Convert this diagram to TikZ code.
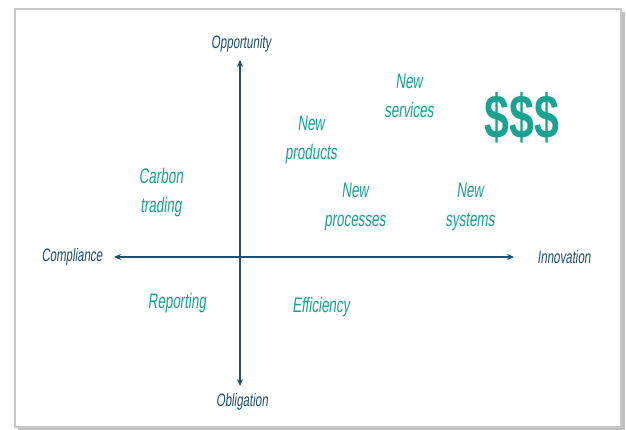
\documentclass[tikz,border=0pt]{standalone}
\usepackage{fontspec}
\setmainfont{Liberation Sans}
\newfontfamily\hand[FakeStretch=0.64,FakeSlant=0.12]{Liberation Sans}
\newfontfamily\handbold[FakeStretch=0.72]{Liberation Sans Bold}
\usetikzlibrary{arrows.meta,shadows}
\definecolor{axisblue}{HTML}{1D4F6E}
\definecolor{tealtxt}{HTML}{17A38F}
\begin{document}
\begin{tikzpicture}[x=1pt,y=-1pt,
  axislabel/.style={text=axisblue,font=\hand\fontsize{18}{20}\selectfont,inner sep=0pt},
  item/.style={text=tealtxt,font=\hand\fontsize{21}{29}\selectfont,align=center,inner sep=0pt},
  axisline/.style={draw=axisblue,line width=2.2pt,-{Stealth[length=7pt,width=6pt]}}]
\useasboundingbox (0,0) rectangle (626,430);
\fill[white] (0,0) rectangle (626,430);
% card with shadow
\fill[black!25] (18,12) rectangle (625,430);
\fill[white,draw=black!22,line width=1.2pt] (15,9) rectangle (621,427);
% axes
\coordinate (O) at (240,257);
\coordinate (top) at (240,60);
\coordinate (bot) at (240,386);
\coordinate (lft) at (114,257);
\coordinate (rgt) at (514,257);
\draw[axisline] (O) -- (top);
\draw[axisline] (O) -- (bot);
\draw[axisline] (O) -- (lft);
\draw[axisline] (O) -- (rgt);
% axis labels
\node[axislabel] (opp) at (241,44) {Opportunity};
\node[axislabel] (obl) at (242,402) {Obligation};
\node[axislabel] (comp) at (72,257) {Compliance};
\node[axislabel] (innov) at (564,257) {Innovation};
% items
\node[item] (serv) at (409,96) {New\\services};
\node[item] (prod) at (311,140) {New\\products};
\node[item] (carb) at (161,193) {Carbon\\trading};
\node[item] (proc) at (355,207) {New\\processes};
\node[item] (sys) at (470,207) {New\\systems};
\node[item] (rep) at (177,303) {Reporting};
\node[item] (eff) at (321,307) {Efficiency};
\node[text=tealtxt,font=\handbold\fontsize{62}{62}\selectfont,inner sep=0pt] (money) at (522,118) {\$\$\$};
\end{tikzpicture}
\end{document}
